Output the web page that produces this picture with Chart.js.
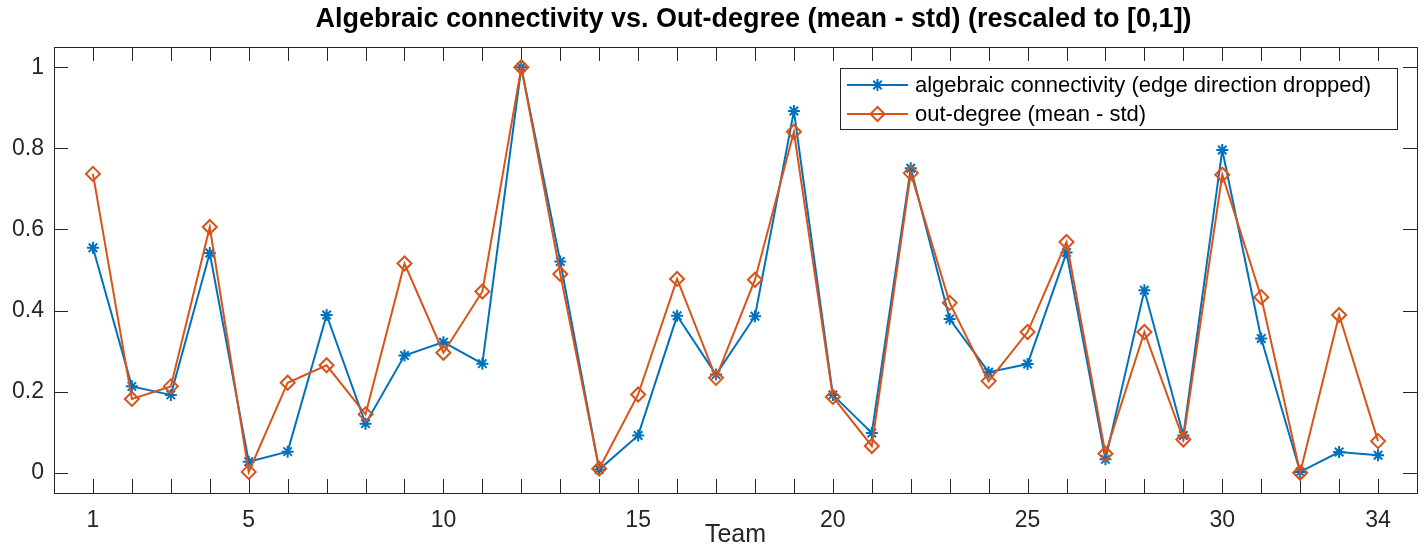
<!DOCTYPE html>
<html>
<head>
<meta charset="utf-8">
<script src="https://cdn.jsdelivr.net/npm/chart.js@4.4.1/dist/chart.umd.min.js"></script>
<style>
  html, body { margin: 0; padding: 0; background: #fff; }
  #wrap { width: 1426px; height: 548px; }
</style>
</head>
<body>
<div id="wrap"><canvas id="lineChart" width="1426" height="548"></canvas></div>
<script>
const teams = [1, 2, 3, 4, 5, 6, 7, 8, 9, 10, 11, 12, 13, 14, 15, 16, 17,
               18, 19, 20, 21, 22, 23, 24, 25, 26, 27, 28, 29, 30, 31, 32, 33, 34];
const algebraicConn = [0.555, 0.213, 0.192, 0.542, 0.027, 0.052, 0.389, 0.121, 0.289, 0.322,
                       0.269, 1.000, 0.521, 0.008, 0.092, 0.387, 0.242, 0.386, 0.892, 0.192,
                       0.098, 0.751, 0.379, 0.248, 0.268, 0.543, 0.033, 0.450, 0.092, 0.796,
                       0.331, 0.002, 0.051, 0.043];
const outDegree = [0.737, 0.182, 0.213, 0.606, 0.002, 0.222, 0.265, 0.144, 0.516, 0.296,
                   0.447, 1.000, 0.490, 0.010, 0.193, 0.478, 0.234, 0.476, 0.841, 0.187,
                   0.066, 0.739, 0.419, 0.226, 0.347, 0.569, 0.047, 0.347, 0.082, 0.735,
                   0.433, 0.000, 0.389, 0.078];
const xTickLabels = [1, 5, 10, 15, 20, 25, 30, 34];
const yTicks = [0, 0.2, 0.4, 0.6, 0.8, 1];
const yTickLabels = ['0', '0.2', '0.4', '0.6', '0.8', '1'];
const chartTitle = 'Algebraic connectivity vs. Out-degree (mean - std) (rescaled to [0,1])';

const FONT = '"Liberation Sans", Arial, Helvetica, sans-serif';
const AXIS_COLOR = '#262626';

// MATLAB-style box with inward tick marks on all four sides
const axesBox = {
  id: 'axesBox',
  beforeDatasetsDraw(chart) {
    const { ctx, chartArea: a, scales: { x, y } } = chart;
    const len = 14;
    ctx.save();
    ctx.strokeStyle = AXIS_COLOR;
    ctx.lineWidth = 1;
    ctx.beginPath();
    teams.forEach(t => {
      const px = Math.round(x.getPixelForValue(t)) + 0.5;
      ctx.moveTo(px, a.bottom); ctx.lineTo(px, a.bottom - len);
      ctx.moveTo(px, a.top); ctx.lineTo(px, a.top + len);
    });
    yTicks.forEach(v => {
      const py = Math.round(y.getPixelForValue(v)) + 0.5;
      ctx.moveTo(a.left, py); ctx.lineTo(a.left + len, py);
      ctx.moveTo(a.right, py); ctx.lineTo(a.right - len, py);
    });
    ctx.stroke();
    ctx.strokeRect(Math.round(a.left) + 0.5, Math.round(a.top) + 0.5,
                   Math.round(a.right - a.left), Math.round(a.bottom - a.top));
    ctx.restore();
  }
};

// title sits a little right of the axes centre, as in the original figure
const figTitle = {
  id: 'figTitle',
  afterDraw(chart) {
    const { ctx, chartArea: a } = chart;
    ctx.save();
    ctx.font = 'bold 27px ' + FONT;
    ctx.fillStyle = '#000';
    ctx.textAlign = 'center';
    ctx.textBaseline = 'middle';
    ctx.fillText(chartTitle, (a.left + a.right) / 2 + 18, 20);
    ctx.restore();
  }
};

// legend drawn as a framed box inside the top right of the plot
const boxLegend = {
  id: 'boxLegend',
  afterDraw(chart) {
    const { ctx, chartArea: a } = chart;
    const sets = chart.data.datasets;
    ctx.save();
    ctx.font = '22px ' + FONT;
    const textW = Math.max(...sets.map(d => ctx.measureText(d.label).width));
    const w = Math.round(75 + textW + 26), h = 61;
    const left = Math.round(a.right - 20 - w), top = Math.round(a.top + 21);
    ctx.fillStyle = '#fff';
    ctx.fillRect(left, top, w, h);
    ctx.strokeStyle = AXIS_COLOR;
    ctx.lineWidth = 1;
    ctx.strokeRect(left + 0.5, top + 0.5, w, h);
    sets.forEach((d, i) => {
      const cy = top + 17 + i * 29;
      ctx.strokeStyle = d.borderColor;
      ctx.lineWidth = d.borderWidth;
      ctx.beginPath();
      ctx.moveTo(left + 7, cy);
      ctx.lineTo(left + 68, cy);
      ctx.stroke();
      ctx.fillStyle = d.backgroundColor;
      Chart.helpers.drawPoint(ctx, {
        pointStyle: d.pointStyle, rotation: 0,
        radius: d.pointRadius, borderWidth: d.pointBorderWidth
      }, left + 37.5, cy);
      ctx.fillStyle = '#000';
      ctx.textBaseline = 'middle';
      ctx.textAlign = 'left';
      ctx.fillText(d.label, left + 75, cy + 1);
    });
    ctx.restore();
  }
};

const ctx = document.getElementById('lineChart').getContext('2d');
const chart = new Chart(ctx, {
  type: 'line',
  data: {
    datasets: [{
      label: 'algebraic connectivity (edge direction dropped)',
      data: teams.map((t, i) => ({ x: t, y: algebraicConn[i] })),
      borderColor: '#0072BD',
      backgroundColor: '#0072BD',
      borderWidth: 2,
      pointStyle: 'star',
      pointRadius: 6,
      pointBorderWidth: 2,
      tension: 0,
      order: 1
    }, {
      label: 'out-degree (mean - std)',
      data: teams.map((t, i) => ({ x: t, y: outDegree[i] })),
      borderColor: '#D95319',
      backgroundColor: 'rgba(255,255,255,0)',
      borderWidth: 2,
      pointStyle: 'rectRot',
      pointRadius: 7,
      pointBorderWidth: 2,
      tension: 0,
      order: 0
    }]
  },
  options: {
    responsive: false,
    animation: false,
    devicePixelRatio: 1,
    layout: { padding: { left: 0, right: 7, top: 47, bottom: 0 } },
    scales: {
      x: {
        type: 'linear',
        min: 0,
        max: 35,
        afterBuildTicks: s => { s.ticks = teams.map(v => ({ value: v })); },
        afterFit: s => { s.height = 55; },
        grid: { display: false, drawTicks: false },
        border: { display: false },
        ticks: {
          autoSkip: false,
          maxRotation: 0,
          padding: 14,
          color: AXIS_COLOR,
          font: { family: FONT, size: 23 },
          callback: v => xTickLabels.includes(v) ? String(v) : ''
        },
        title: {
          display: true,
          text: 'Team',
          color: AXIS_COLOR,
          font: { family: FONT, size: 25, lineHeight: 1.0 },
          padding: 0
        }
      },
      y: {
        type: 'linear',
        min: -0.05,
        max: 1.05,
        afterBuildTicks: s => { s.ticks = yTicks.map(v => ({ value: v })); },
        afterFit: s => { s.width = 54; },
        grid: { display: false, drawTicks: false },
        border: { display: false },
        ticks: {
          padding: 10,
          color: AXIS_COLOR,
          font: { family: FONT, size: 23 },
          callback: v => yTickLabels[yTicks.indexOf(v)] ?? ''
        }
      }
    },
    plugins: {
      legend: { display: false },
      tooltip: { enabled: false },
      title: { display: false }
    }
  },
  plugins: [axesBox, figTitle, boxLegend]
});
</script>
</body>
</html>
